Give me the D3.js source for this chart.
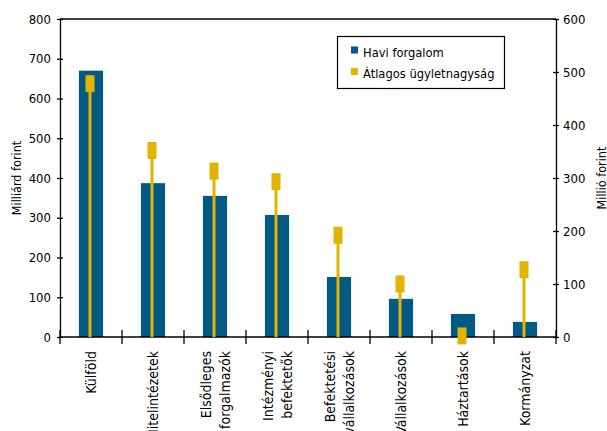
<!DOCTYPE html>
<html>
<head>
<meta charset="utf-8">
<script src="https://cdn.jsdelivr.net/npm/d3@7"></script>
<style>
  body { margin: 0; background: #fff; }
  svg text { font-family: "DejaVu Sans Condensed", "Liberation Sans", sans-serif; fill: #000; }
</style>
</head>
<body>
<div id="chart"></div>
<script>
// data
var categories = ["Külföld", "Hitelintézetek", "Elsődleges forgalmazók", "Intézményi befektetők",
                  "Befektetési vállalkozások", "Vállalkozások", "Háztartások", "Kormányzat"];
var labelLines = [["Külföld"], ["Hitelintézetek"], ["Elsődleges", "forgalmazók"], ["Intézményi", "befektetők"],
                  ["Befektetési", "vállalkozások"], ["Vállalkozások"], ["Háztartások"], ["Kormányzat"]];
var haviForgalom = [670, 387, 355, 307, 151, 96, 58, 38];          // Milliárd forint (left)
var atlagosUgylet = [478, 352, 313, 293, 192, 100, 2, 127];        // Millió forint (right)
var leftTicks = [0, 100, 200, 300, 400, 500, 600, 700, 800];
var rightTicks = [0, 100, 200, 300, 400, 500, 600];
var seriesNames = ["Havi forgalom", "Átlagos ügyletnagyság"];

function init() {
    var w = 607, h = 431;
    var left = 60, right = 556, top = 19, bottom = 337;
    var blue = "#025a84", yellow = "#e0b400";

    var svg = d3.select("#chart").append("svg")
        .attr("width", w).attr("height", h);

    var xScale = d3.scaleBand().domain(categories).range([left, right]);
    var yLeft = d3.scaleLinear().domain([0, 800]).range([bottom, top]);
    var yRight = d3.scaleLinear().domain([0, 600]).range([bottom, top]);

    var barW = xScale.bandwidth() * 0.39;

    // bars
    svg.selectAll("rect.bar")
        .data(haviForgalom)
        .enter().append("rect")
        .attr("class", "bar")
        .attr("x", function(d, i) { return xScale(categories[i]) + (xScale.bandwidth() - barW) / 2; })
        .attr("y", function(d) { return yLeft(d); })
        .attr("width", barW)
        .attr("height", function(d) { return yLeft(0) - yLeft(d); })
        .attr("fill", blue);

    // frame top line
    svg.append("line")
        .attr("x1", left).attr("x2", right)
        .attr("y1", top).attr("y2", top)
        .attr("stroke", "#000").attr("stroke-width", 1.3);

    // left axis
    var gL = svg.append("g")
        .attr("transform", "translate(" + left + ",0)")
        .call(d3.axisLeft(yLeft).tickValues(leftTicks).tickSize(3).tickPadding(6).tickSizeOuter(0));
    gL.selectAll(".tick line").attr("x1", 3);

    // right axis
    var gR = svg.append("g")
        .attr("transform", "translate(" + right + ",0)")
        .call(d3.axisRight(yRight).tickValues(rightTicks).tickSize(3).tickPadding(4).tickSizeOuter(0));
    gR.selectAll(".tick line").attr("x1", -3);

    [gL, gR].forEach(function(g) {
        g.select(".domain").attr("stroke", "#000").attr("stroke-width", 1.3);
        g.selectAll(".tick line").attr("stroke", "#000").attr("stroke-width", 1.3);
        g.selectAll(".tick text").style("font-size", "13px");
    });

    // bottom axis: line plus ticks at category boundaries
    svg.append("line")
        .attr("x1", left).attr("x2", right)
        .attr("y1", bottom).attr("y2", bottom)
        .attr("stroke", "#000").attr("stroke-width", 1.3);
    var bounds = categories.map(function(c) { return xScale(c); }).concat([right]);
    svg.selectAll("line.xtick")
        .data(bounds)
        .enter().append("line")
        .attr("class", "xtick")
        .attr("x1", function(d) { return d; }).attr("x2", function(d) { return d; })
        .attr("y1", bottom - 7).attr("y2", bottom + 7)
        .attr("stroke", "#000").attr("stroke-width", 1.3);

    // category labels, rotated
    var lab = svg.selectAll("g.lab")
        .data(labelLines)
        .enter().append("g")
        .attr("class", "lab")
        .attr("transform", function(d, i) {
            return "translate(" + (xScale(categories[i]) + xScale.bandwidth() / 2) + ",351) rotate(-90)";
        });
    lab.each(function(lines) {
        var t = d3.select(this).append("text")
            .attr("text-anchor", "end")
            .style("font-size", "14px");
        lines.forEach(function(s, k) {
            var off = (k - (lines.length - 1) / 2) * 18.5 + 5.3;
            t.append("tspan").attr("x", 0).attr("y", off).text(s);
        });
    });

    // yellow: stem + marker
    svg.selectAll("line.stem")
        .data(atlagosUgylet)
        .enter().append("line")
        .attr("class", "stem")
        .attr("x1", function(d, i) { return xScale(categories[i]) + xScale.bandwidth() / 2 - 1; })
        .attr("x2", function(d, i) { return xScale(categories[i]) + xScale.bandwidth() / 2 - 1; })
        .attr("y1", yRight(0))
        .attr("y2", function(d) { return yRight(d); })
        .attr("stroke", yellow).attr("stroke-width", 3);

    svg.selectAll("rect.mark")
        .data(atlagosUgylet)
        .enter().append("rect")
        .attr("class", "mark")
        .attr("x", function(d, i) { return xScale(categories[i]) + xScale.bandwidth() / 2 - 5.5; })
        .attr("y", function(d) { return yRight(d) - 8.5; })
        .attr("width", 9).attr("height", 17)
        .attr("fill", yellow);

    // axis titles
    svg.append("text")
        .attr("transform", "translate(21,178) rotate(-90)")
        .attr("text-anchor", "middle")
        .style("font-size", "12.5px")
        .text("Milliárd forint");
    svg.append("text")
        .attr("transform", "translate(606,178) rotate(-90)")
        .attr("text-anchor", "middle")
        .style("font-size", "12.5px")
        .text("Millió forint");

    // legend
    var lg = svg.append("g");
    lg.append("rect")
        .attr("x", 337.5).attr("y", 36.5).attr("width", 167).attr("height", 52)
        .attr("fill", "#fff").attr("stroke", "#000").attr("stroke-width", 1.2);
    var colors = [blue, yellow];
    seriesNames.forEach(function(s, i) {
        lg.append("rect")
            .attr("x", 351).attr("y", 46.5 + i * 21.5).attr("width", 7).attr("height", 7)
            .attr("fill", colors[i]);
        lg.append("text")
            .attr("x", 363).attr("y", 56.5 + i * 21.5)
            .style("font-size", "12.8px")
            .text(s);
    });
}
window.onload = init;
</script>
</body>
</html>
